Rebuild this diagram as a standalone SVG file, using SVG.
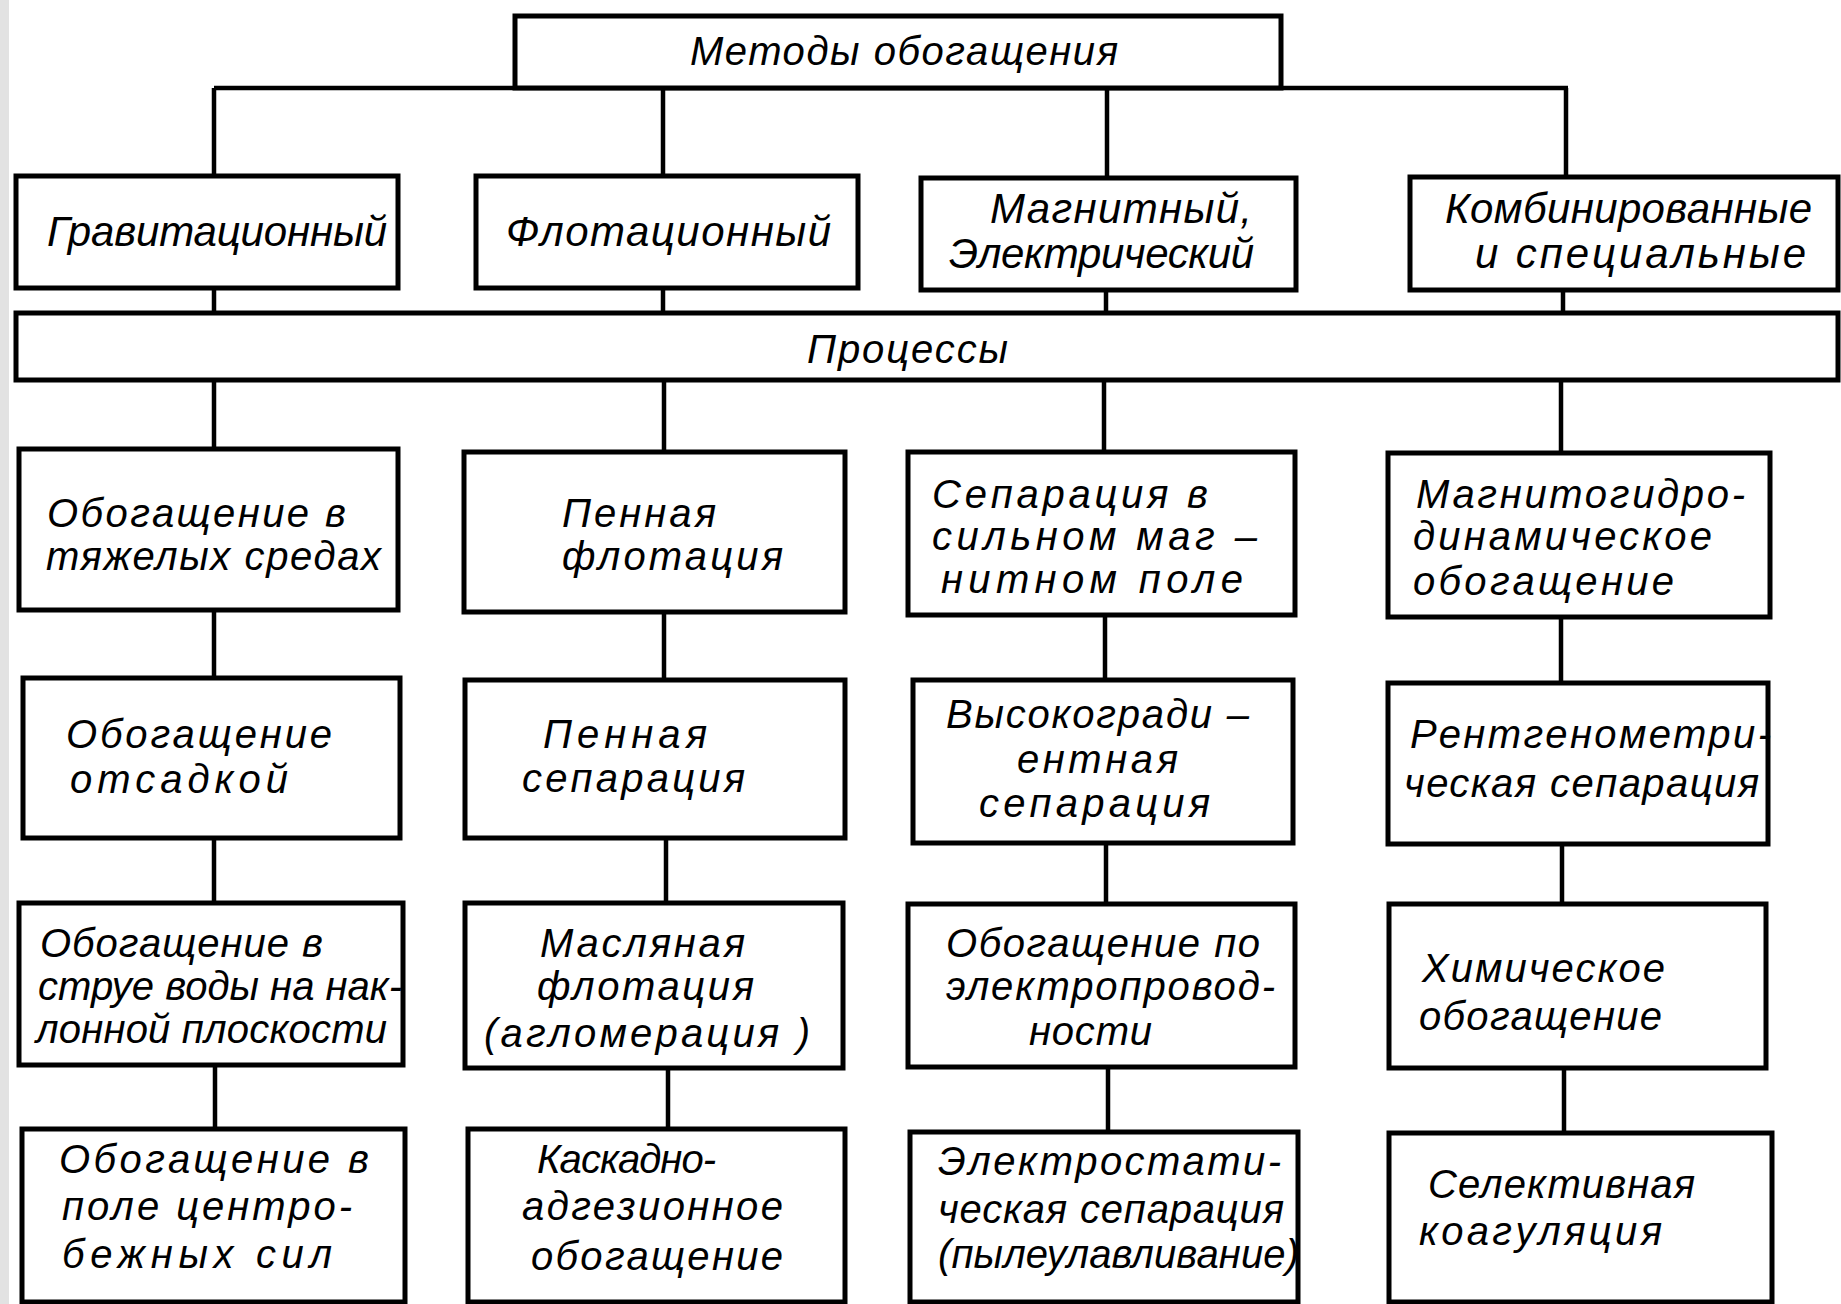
<svg xmlns="http://www.w3.org/2000/svg" width="1841" height="1304" viewBox="0 0 1841 1304">
<style>
.b{fill:#fff;stroke:#000;stroke-width:5}
.c{stroke:#000;stroke-width:4.5;fill:none}
text{font-family:"Liberation Sans","DejaVu Sans",sans-serif;font-style:italic;font-size:40px;fill:#000}
.t1{font-size:42px}
.t0{font-size:40px}
</style>
<rect width="1841" height="1304" fill="#fff"/>
<rect x="0" y="0" width="9" height="1304" fill="#e2e2e2"/>
<g id="connectors">
<path class="c" d="M214 88H1568M214 88V177M663 88V177M1107 88V178M1566 88V178"/>
<path class="c" d="M214 288V313M663 288V313M1106 290V313M1563 290V313"/>
<path class="c" d="M214 380V449M664 380V452M1104 380V452M1561 380V453"/>
<path class="c" d="M214 610V678M664 612V680M1105 615V680M1561 617V683"/>
<path class="c" d="M214 838V903M666 838V903M1106 843V904M1562 844V904"/>
<path class="c" d="M215 1065V1129M668 1068V1129M1108 1067V1132M1564 1068V1133"/>
</g>
<g id="n0"><rect class="b" x="515" y="16" width="766" height="72"/><text class="t0" x="690" y="65" textLength="428">Методы обогащения</text></g>
<g id="n1a"><rect class="b" x="16" y="176" width="382" height="112"/><text class="t1" x="47" y="246" textLength="340">Гравитационный</text></g>
<g id="n1b"><rect class="b" x="476" y="176" width="382" height="112"/><text class="t1" x="506" y="246" textLength="325">Флотационный</text></g>
<g id="n1c"><rect class="b" x="921" y="178" width="375" height="112"/><text class="t1" x="990" y="223" textLength="262">Магнитный,</text><text class="t1" x="949" y="268" textLength="305">Электрический</text></g>
<g id="n1d"><rect class="b" x="1410" y="177" width="428" height="113"/><text class="t1" x="1445" y="223" textLength="367">Комбинированные</text><text class="t1" x="1475" y="268" textLength="331">и специальные</text></g>
<g id="bar"><rect class="b" x="16" y="313" width="1822" height="67"/><text x="807" y="363" textLength="201">Процессы</text></g>
<g id="n2a"><rect class="b" x="19" y="449" width="379" height="161"/><text x="47" y="527" textLength="299">Обогащение в</text><text x="46" y="570" textLength="335">тяжелых средах</text></g>
<g id="n2b"><rect class="b" x="464" y="452" width="381" height="160"/><text x="562" y="527" textLength="154">Пенная</text><text x="562" y="570" textLength="221">флотация</text></g>
<g id="n2c"><rect class="b" x="908" y="452" width="387" height="163"/><text x="932" y="508" textLength="276">Сепарация в</text><text x="932" y="550" textLength="325">сильном маг –</text><text x="941" y="593" textLength="302">нитном поле</text></g>
<g id="n2d"><rect class="b" x="1388" y="453" width="382" height="164"/><text x="1416" y="508" textLength="329">Магнитогидро-</text><text x="1413" y="550" textLength="299">динамическое</text><text x="1413" y="595" textLength="261">обогащение</text></g>
<g id="n3a"><rect class="b" x="23" y="678" width="377" height="160"/><text x="66" y="748" textLength="266">Обогащение</text><text x="70" y="793" textLength="218">отсадкой</text></g>
<g id="n3b"><rect class="b" x="465" y="680" width="380" height="158"/><text x="543" y="748" textLength="164">Пенная</text><text x="522" y="792" textLength="223">сепарация</text></g>
<g id="n3c"><rect class="b" x="913" y="680" width="380" height="163"/><text x="946" y="728" textLength="303">Высокогради –</text><text x="1017" y="773" textLength="161">ентная</text><text x="979" y="817" textLength="231">сепарация</text></g>
<g id="n3d"><rect class="b" x="1388" y="683" width="380" height="161"/><text x="1410" y="748" textLength="361">Рентгенометри-</text><text x="1404" y="797" textLength="355">ческая сепарация</text></g>
<g id="n4a"><rect class="b" x="19" y="903" width="384" height="162"/><text x="40" y="957" textLength="283">Обогащение в</text><text x="38" y="1000" textLength="364">струе воды на нак-</text><text x="36" y="1043" textLength="351">лонной плоскости</text></g>
<g id="n4b"><rect class="b" x="465" y="903" width="378" height="165"/><text x="540" y="957" textLength="205">Масляная</text><text x="537" y="1000" textLength="217">флотация</text><text x="484" y="1047" textLength="326">(агломерация )</text></g>
<g id="n4c"><rect class="b" x="908" y="904" width="387" height="163"/><text x="946" y="957" textLength="314">Обогащение по</text><text x="946" y="1000" textLength="329">электропровод-</text><text x="1029" y="1045" textLength="123">ности</text></g>
<g id="n4d"><rect class="b" x="1389" y="904" width="377" height="164"/><text x="1422" y="982" textLength="243">Химическое</text><text x="1419" y="1030" textLength="243">обогащение</text></g>
<g id="n5a"><rect class="b" x="22" y="1129" width="383" height="173"/><text x="59" y="1173" textLength="310">Обогащение в</text><text x="62" y="1220" textLength="290">поле центро-</text><text x="62" y="1268" textLength="270">бежных сил</text></g>
<g id="n5b"><rect class="b" x="468" y="1129" width="377" height="173"/><text x="537" y="1173" textLength="179">Каскадно-</text><text x="522" y="1220" textLength="261">адгезионное</text><text x="531" y="1270" textLength="252">обогащение</text></g>
<g id="n5c"><rect class="b" x="910" y="1132" width="388" height="170"/><text x="938" y="1175" textLength="343">Электростати-</text><text x="938" y="1223" textLength="346">ческая сепарация</text><text x="938" y="1268" textLength="361">(пылеулавливание)</text></g>
<g id="n5d"><rect class="b" x="1389" y="1133" width="383" height="169"/><text x="1428" y="1198" textLength="267">Селективная</text><text x="1419" y="1245" textLength="243">коагуляция</text></g>
</svg>
